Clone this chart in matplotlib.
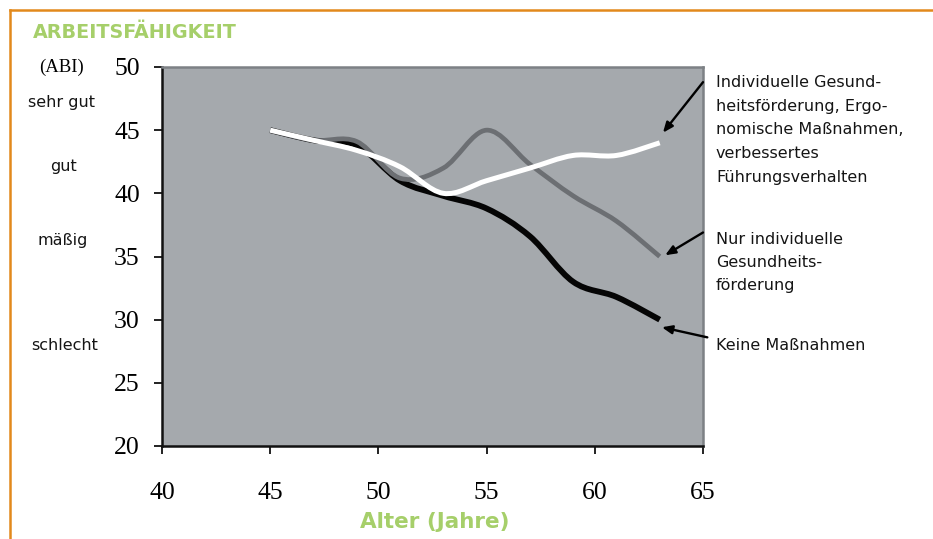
import numpy as np
import matplotlib
matplotlib.use('Agg')
import matplotlib.pyplot as plt
from matplotlib.path import Path
from matplotlib.patches import PathPatch
from matplotlib.lines import Line2D

# age (years) and work ability index for three scenarios
alter = [45, 47, 49, 51, 53, 55, 57, 59, 61, 63]
abi_alle_massnahmen = [45.0, 44.2, 43.4, 42.1, 40.0, 41.0, 42.0, 43.0, 43.0, 44.0]
abi_nur_gesundheit = [45.0, 44.2, 44.1, 41.2, 42.0, 45.0, 42.3, 39.8, 37.8, 35.0]
abi_keine = [45.0, 44.2, 43.8, 41.0, 39.8, 38.8, 36.6, 33.0, 31.8, 30.0]

xticks = [40, 45, 50, 55, 60, 65]
yticks = [20, 25, 30, 35, 40, 45, 50]
stufen = ['sehr gut', 'gut', 'mäßig', 'schlecht']
texte = ['Individuelle Gesund-\nheitsförderung, Ergo-\nnomische Maßnahmen,\nverbessertes\nFührungsverhalten',
         'Nur individuelle\nGesundheits-\nförderung',
         'Keine Maßnahmen']

W, H = 933, 539
green = '#a6cf6a'
txtcol = '#151515'
serif = 'Liberation Serif'
sans = ['DejaVu Sans']


def smooth_path(x, y):
    # cubic bezier through all points (catmull-rom style tangents)
    p = np.column_stack([x, y]).astype(float)
    n = len(p)
    verts = [p[0]]
    codes = [Path.MOVETO]
    for i in range(n - 1):
        p0 = p[i - 1] if i > 0 else p[i]
        p3 = p[i + 2] if i + 2 < n else p[i + 1]
        c1 = p[i] + (p[i + 1] - p0) / 6.0
        c2 = p[i + 1] - (p3 - p[i]) / 6.0
        verts += [c1, c2, p[i + 1]]
        codes += [Path.CURVE4] * 3
    return Path(verts, codes)


fig = plt.figure(figsize=(W / 100, H / 100), dpi=100)
ax = fig.add_axes([162 / W, 1 - 446 / H, (703 - 162) / W, (446 - 67) / H])
ax.set_facecolor('#a5a9ad')
ax.set_xlim(40, 65)
ax.set_ylim(20, 50)

for ys, col, lw in [(abi_keine, '#050505', 4.2),
                    (abi_nur_gesundheit, '#6c6f73', 3.4),
                    (abi_alle_massnahmen, '#ffffff', 3.6)]:
    ax.add_patch(PathPatch(smooth_path(alter, ys), facecolor='none', edgecolor=col,
                           lw=lw, capstyle='butt', joinstyle='round'))

ax.set_xticks(xticks)
ax.set_yticks(yticks)
ax.tick_params(axis='both', direction='out', length=6, width=1.3, color='#111111')
ax.tick_params(axis='x', pad=20, labelsize=18.5)
ax.tick_params(axis='y', pad=10, labelsize=18.5)
for lab in ax.get_xticklabels() + ax.get_yticklabels():
    lab.set_fontfamily(serif)
for s in ['left', 'bottom']:
    ax.spines[s].set_color('#111111')
    ax.spines[s].set_linewidth(1.8)
for s in ['top', 'right']:
    ax.spines[s].set_color('#7d8185')
    ax.spines[s].set_linewidth(1.8)

# arrows from the labels to the line ends
pfeile = [((65.0, 48.8), (63.15, 44.8)),
          ((65.0, 36.9), (63.25, 35.1)),
          ((65.2, 28.6), (63.1, 29.4))]
for tail, head in pfeile:
    ax.annotate('', xy=head, xytext=tail, annotation_clip=False,
                arrowprops=dict(arrowstyle='-|>,head_length=0.6,head_width=0.25',
                                color='black', lw=1.7, shrinkA=0, shrinkB=0))

fig.text(716 / W, 1 - 75 / H, texte[0], family=sans, fontsize=11.5, va='top',
         linespacing=1.72, color=txtcol)
fig.text(716 / W, 1 - 232 / H, texte[1], family=sans, fontsize=11.5, va='top',
         linespacing=1.68, color=txtcol)
fig.text(716 / W, 1 - 345 / H, texte[2], family=sans, fontsize=11.5, va='center',
         color=txtcol)

# left side labels
fig.text(62 / W, 1 - 67 / H, '(ABI)', family=serif, fontsize=13.5, ha='center', va='center')
for txt, x, y in zip(stufen, [62, 63, 63, 65], [102, 167, 240, 345]):
    fig.text(x / W, 1 - y / H, txt, family=sans, fontsize=11.5, ha='center', va='center',
             color=txtcol)

fig.text(33 / W, 1 - 32 / H, 'ARBEITSFÄHIGKEIT', family=sans, fontsize=13.8,
         fontweight='bold', color=green, va='center')
fig.text(435 / W, 1 - 522 / H, 'Alter (Jahre)', family=sans, fontsize=15.5,
         fontweight='bold', color=green, ha='center', va='center')

# orange frame (top and left edge)
fig.add_artist(Line2D([10 / W, 1], [1 - 10 / H, 1 - 10 / H], color='#e2891c', lw=1.8))
fig.add_artist(Line2D([10 / W, 10 / W], [0, 1 - 10 / H], color='#e2891c', lw=1.8))

fig.savefig('out.png', dpi=100)
